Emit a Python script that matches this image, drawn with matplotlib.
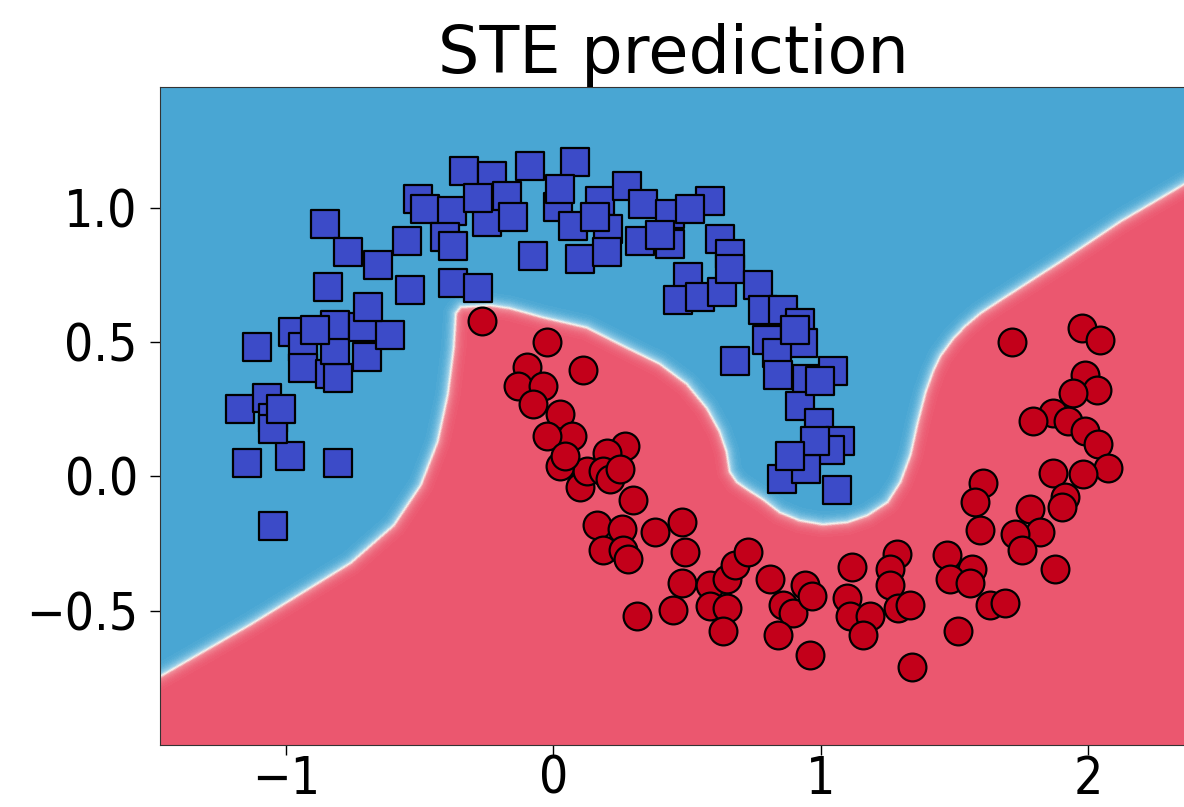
import numpy as np
import matplotlib
matplotlib.use("Agg")
import matplotlib.pyplot as plt
from matplotlib.colors import LinearSegmentedColormap

# class 0: squares (upper moon)
blue_x = [-1.047, -1.144, -0.983, -0.807, -1.170, -1.069, -1.047, -1.050, -1.107, -0.972,
          -0.935, -0.935, -0.834, -0.804, -0.815, -0.695, -0.815, -0.710, -0.609, -0.692,
          -0.841, -0.852, -0.766, -0.654, -0.546, -0.535, -0.505, -0.479, -0.378, -0.404,
          -0.374, -0.280, -0.333, -0.228, -0.247, -0.172, -0.150, -0.086, 0.082, 0.019,
          0.075, 0.176, 0.206, 0.277, 0.336, 0.325, 0.437, 0.437, 0.587, 0.624,
          0.662, -0.075, 0.101, 0.202, 0.505, 0.467, 0.550, 0.632, 0.662, 0.766,
          0.785, 0.860, 0.923, 0.800, 0.935, 0.680, 0.837, 0.841, 0.950, 1.047,
          0.923, 0.994, 1.073, 1.036, 0.931, 0.856, 1.062, 0.946, -0.374, 0.400,
          0.026, 0.157, -0.280, -0.890, -1.020, 0.512, 0.905, 0.998, 0.979, 0.886]
blue_y = [-0.184, 0.049, 0.075, 0.049, 0.252, 0.293, 0.218, 0.177, 0.481, 0.538,
          0.481, 0.402, 0.383, 0.365, 0.470, 0.444, 0.564, 0.556, 0.526, 0.632,
          0.707, 0.940, 0.835, 0.789, 0.876, 0.695, 1.034, 0.996, 0.989, 0.891,
          0.722, 0.703, 1.139, 1.117, 0.947, 1.045, 0.966, 1.154, 1.169, 1.004,
          0.932, 1.026, 0.921, 1.083, 1.015, 0.876, 0.977, 0.865, 1.026, 0.883,
          0.827, 0.820, 0.808, 0.835, 0.741, 0.658, 0.669, 0.688, 0.771, 0.711,
          0.620, 0.620, 0.571, 0.508, 0.496, 0.429, 0.459, 0.376, 0.361, 0.391,
          0.263, 0.199, 0.132, 0.098, 0.068, -0.011, -0.049, 0.026, 0.857, 0.900,
          1.070, 0.966, 1.038, 0.545, 0.252, 0.996, 0.545, 0.357, 0.132, 0.075]

# class 1: circles (lower moon)
red_x = [-0.265, -0.022, 0.112, -0.097, -0.131, -0.037, -0.075, 0.026, 0.071, -0.022,
         0.269, 0.202, 0.026, 0.101, 0.127, 0.187, 0.213, 0.299, 0.164, 0.258,
         0.187, 0.262, 0.280, 0.381, 0.482, 0.493, 0.482, 0.314, 0.449, 0.587,
         0.587, 0.650, 0.680, 0.729, 0.650, 0.636, 0.811, 0.860, 0.897, 0.942,
         0.968, 0.841, 0.961, 1.118, 1.099, 1.110, 1.185, 1.159, 1.286, 1.260,
         1.260, 1.290, 1.335, 1.342, 1.473, 1.566, 1.484, 1.559, 1.634, 1.690,
         1.514, 1.607, 1.578, 1.596, 1.716, 1.978, 2.045, 1.989, 2.034, 1.944,
         1.869, 1.794, 1.925, 1.989, 2.037, 2.075, 1.869, 1.981, 1.914, 1.783,
         1.903, 1.821, 1.727, 1.753, 1.877, 0.045, 0.250]
red_y = [0.579, 0.500, 0.395, 0.406, 0.338, 0.338, 0.271, 0.233, 0.150, 0.150,
         0.113, 0.086, 0.038, -0.038, 0.019, 0.019, -0.008, -0.086, -0.180, -0.195,
         -0.274, -0.274, -0.308, -0.207, -0.169, -0.282, -0.395, -0.519, -0.496, -0.406,
         -0.481, -0.383, -0.331, -0.282, -0.489, -0.575, -0.383, -0.477, -0.508, -0.406,
         -0.444, -0.590, -0.665, -0.338, -0.451, -0.519, -0.519, -0.590, -0.289, -0.346,
         -0.406, -0.489, -0.477, -0.711, -0.293, -0.346, -0.383, -0.395, -0.477, -0.470,
         -0.575, -0.026, -0.094, -0.199, 0.500, 0.553, 0.508, 0.376, 0.320, 0.312,
         0.237, 0.207, 0.207, 0.169, 0.120, 0.030, 0.011, 0.008, -0.075, -0.120,
         -0.113, -0.207, -0.214, -0.274, -0.346, 0.075, 0.026]

# decision boundary of the STE model (traced)
bound_x = [-1.600, -1.469, -1.133, -0.759, -0.598, -0.497, -0.434, -0.396, -0.374, -0.366,
           -0.348, -0.236, -0.161, -0.037, 0.127, 0.277, 0.400, 0.501, 0.576, 0.624,
           0.650, 0.662, 0.688, 0.725, 0.785, 0.849, 0.923, 1.009, 1.099, 1.174,
           1.249, 1.297, 1.335, 1.361, 1.391, 1.420, 1.447, 1.495, 1.540, 1.596,
           1.671, 1.895, 2.120, 2.359, 2.700]
bound_y = [-0.818, -0.741, -0.549, -0.320, -0.180, -0.030, 0.132, 0.308, 0.481, 0.609,
           0.632, 0.639, 0.628, 0.594, 0.556, 0.481, 0.421, 0.346, 0.256, 0.169,
           0.094, 0.019, -0.019, -0.045, -0.083, -0.132, -0.162, -0.177, -0.169, -0.143,
           -0.094, -0.019, 0.083, 0.200, 0.315, 0.395, 0.451, 0.515, 0.562, 0.609,
           0.658, 0.801, 0.951, 1.090, 1.290]


def boundary_prob(xx, yy, bx, by, soft=0.013):
    bx = np.asarray(bx)
    by = np.asarray(by)
    dist = np.full(xx.shape, np.inf)
    for i in range(len(bx) - 1):
        x0, y0 = bx[i], by[i]
        dx, dy = bx[i + 1] - x0, by[i + 1] - y0
        t = ((xx - x0) * dx + (yy - y0) * dy) / (dx * dx + dy * dy)
        t = np.clip(t, 0, 1)
        d = np.hypot(xx - x0 - t * dx, yy - y0 - t * dy)
        dist = np.minimum(dist, d)
    sign = np.where(yy > np.interp(xx, bx, by), 1.0, -1.0)
    return 1.0 / (1.0 + np.exp(-sign * dist / soft))


cmap = LinearSegmentedColormap.from_list(
    "ste", [(0.0, "#EB556E"), (0.35, "#F08C98"), (0.5, "#F7F3EE"),
            (0.65, "#9CD0E8"), (1.0, "#46A5D2")])

xmin, xmax = -1.471, 2.367
ymin, ymax = -1.0, 1.45

fig = plt.figure(figsize=(11.84, 8.07), dpi=100)
ax = fig.add_axes([160 / 1184, 62 / 807, 1026 / 1184, 658 / 807])

xx, yy = np.meshgrid(np.linspace(xmin, xmax, 900), np.linspace(ymin, ymax, 560))
prob = boundary_prob(xx, yy, bound_x, bound_y)
ax.contourf(xx, yy, prob, levels=np.linspace(0, 1, 41), cmap=cmap)

ax.scatter(blue_x, blue_y, marker="s", s=400, c="#3C4BC8", edgecolors="black", linewidths=1.6)
ax.scatter(red_x, red_y, marker="o", s=400, c="#C3001A", edgecolors="black", linewidths=1.6)

ax.set_xlim(xmin, xmax)
ax.set_ylim(ymin, ymax)
ax.set_xticks([-1, 0, 1, 2])
ax.set_yticks([-0.5, 0.0, 0.5, 1.0])
ax.tick_params(axis="both", labelsize=37, length=7, width=1.0)
ax.tick_params(axis="y", pad=9)
ax.tick_params(axis="x", pad=0)
for lab in ax.get_xticklabels() + ax.get_yticklabels():
    lab.set_fontstretch("condensed")
for sp in ax.spines.values():
    sp.set_color("#333333")

ax.set_title("STE prediction", fontsize=47, pad=9)

fig.savefig("out.png", dpi=100)
